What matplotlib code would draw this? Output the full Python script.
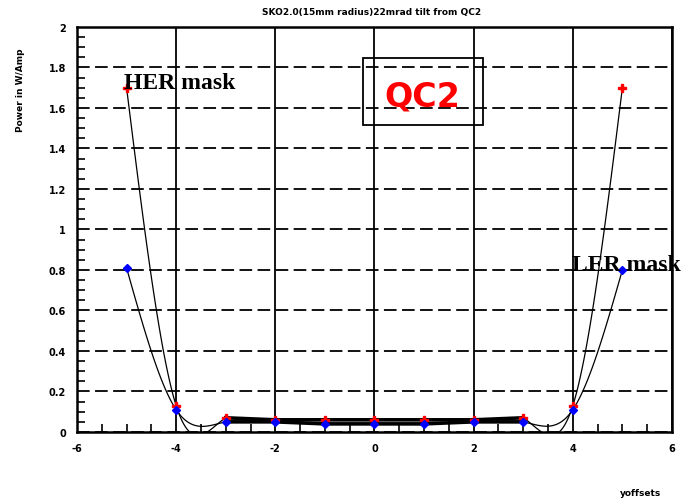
import numpy as np
import matplotlib
matplotlib.use("Agg")
import matplotlib.pyplot as plt
from matplotlib.patches import Rectangle

# offsets (mm) and measured power for the two masks
yoff = [-5, -4, -3, -2, -1, 0, 1, 2, 3, 4, 5]
her = [1.70, 0.13, 0.07, 0.06, 0.06, 0.06, 0.06, 0.06, 0.07, 0.13, 1.70]
ler = [0.81, 0.11, 0.05, 0.05, 0.04, 0.04, 0.04, 0.05, 0.05, 0.11, 0.80]

xticks = [-6, -4, -2, 0, 2, 4, 6]
yticks = [0, 0.2, 0.4, 0.6, 0.8, 1, 1.2, 1.4, 1.6, 1.8, 2]


def natural_spline(x, y, xs):
    x = np.asarray(x, float)
    y = np.asarray(y, float)
    n = len(x)
    h = np.diff(x)
    A = np.zeros((n, n))
    b = np.zeros(n)
    A[0, 0] = A[-1, -1] = 1
    for i in range(1, n - 1):
        A[i, i - 1] = h[i - 1]
        A[i, i] = 2 * (h[i - 1] + h[i])
        A[i, i + 1] = h[i]
        b[i] = 6 * ((y[i + 1] - y[i]) / h[i] - (y[i] - y[i - 1]) / h[i - 1])
    M = np.linalg.solve(A, b)
    k = np.clip(np.searchsorted(x, xs) - 1, 0, n - 2)
    t0 = x[k + 1] - xs
    t1 = xs - x[k]
    hk = h[k]
    return (M[k] * t0**3 / (6 * hk) + M[k + 1] * t1**3 / (6 * hk)
            + (y[k] / hk - M[k] * hk / 6) * t0
            + (y[k + 1] / hk - M[k + 1] * hk / 6) * t1)


fig = plt.figure(figsize=(6.98, 5.02), dpi=100)
ax = fig.add_axes([0.1103, 0.1375, 0.8524, 0.8068])

xs = np.linspace(-5, 5, 600)
for ys in (her, ler):
    fit = natural_spline(yoff, ys, xs)
    left = xs <= -3
    right = xs >= 3
    ax.plot(xs[left], fit[left], color="black", lw=0.9, zorder=3)
    ax.plot(xs[right], fit[right], color="black", lw=0.9, zorder=3)
    ax.plot(yoff[2:-2], ys[2:-2], color="black", lw=2.6, zorder=3)

ax.plot(yoff, her, ls="none", marker="P", ms=5.5, color="red", zorder=4)
ax.plot(yoff, ler, ls="none", marker="D", ms=4.5, color="blue", zorder=5)

ax.set_xlim(-6, 6)
ax.set_ylim(0, 2)
ax.set_xticks(xticks)
ax.set_yticks(yticks)
ax.set_xticklabels([str(v) for v in xticks])
ax.set_yticklabels(["0" if v == 0 else ("%g" % v) for v in yticks])
ax.set_xticks(np.arange(-6, 6.01, 0.5), minor=True)
ax.set_yticks(np.arange(0, 2.001, 0.05), minor=True)
ax.tick_params(which="major", length=0, labelsize=7, pad=8)
ax.tick_params(which="minor", direction="in", length=6, width=1.2,
               top=False, right=False)
for lab in ax.get_xticklabels() + ax.get_yticklabels():
    lab.set_fontweight("bold")

ax.xaxis.grid(True, color="black", lw=1.3, ls="-")
ax.yaxis.grid(True, color="black", lw=1.3, ls=(0, (7, 3)))
ax.set_axisbelow(True)
for s in ax.spines.values():
    s.set_linewidth(1.8)

fig.text(0.533, 0.975, "SKO2.0(15mm radius)22mrad tilt from QC2",
         ha="center", va="center", fontsize=6.5, fontweight="bold")
fig.text(0.029, 0.82, "Power in W/Amp", rotation=90, ha="center",
         va="center", fontsize=6.5, fontweight="bold")
fig.text(0.917, 0.016, "yoffsets", ha="center", va="center",
         fontsize=6.5, fontweight="bold")

ax.text(-5.05, 1.70, "HER mask", fontsize=17, fontweight="bold",
        family="Liberation Serif", ha="left", va="baseline", zorder=6)
ax.text(3.98, 0.80, "LER mask", fontsize=17, fontweight="bold",
        family="Liberation Serif", ha="left", va="baseline", zorder=6)
ax.add_patch(Rectangle((0.4814, 0.759), 0.2016, 0.165, transform=ax.transAxes,
                       fill=False, ec="black", lw=1.3, zorder=6))
ax.text(0.958, 1.66, "QC2", fontsize=24, fontweight="bold", color="red",
        ha="center", va="center", zorder=6)

fig.savefig("out.png", dpi=100)
